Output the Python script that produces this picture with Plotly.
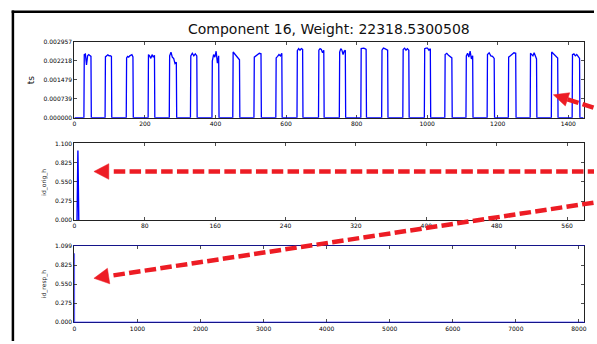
import numpy as np
import plotly.graph_objects as go

# ---------------- data ----------------
title_text = "Component 16, Weight: 22318.5300508"

ts_len = 1444
pulse_on = [27, 87, 147, 209, 269, 329, 390, 449, 509, 571, 631, 692,
            751, 812, 871, 931, 992, 1050, 1110, 1170, 1230, 1292, 1352, 1411]
pulse_off = [48, 106, 167, 228, 290, 348, 410, 469, 530, 589, 648, 708,
             769, 828, 889, 949, 1010, 1071, 1130, 1191, 1252, 1311, 1371, 1433]
pulse_levels = [
    [0.00245, 0.00247, 0.00205, 0.00240, 0.00245, 0.00243, 0.00238],
    [0.00236, 0.00241, 0.00244, 0.00240, 0.00241, 0.00238],
    [0.00232, 0.00238, 0.00235, 0.00240, 0.00242, 0.00245, 0.00236],
    [0.00245, 0.00240, 0.00230, 0.00245, 0.00235, 0.00242],
    [0.00240, 0.00254, 0.00235, 0.00230, 0.00210, 0.00215],
    [0.00240, 0.00250, 0.00240, 0.00248, 0.00240],
    [0.00220, 0.00245, 0.00235, 0.00258, 0.00212, 0.00240],
    [0.00255, 0.00248, 0.00243, 0.00235, 0.00225],
    [0.00235, 0.00240, 0.00245, 0.00250, 0.00248],
    [0.00232, 0.00238, 0.00245, 0.00240, 0.00250],
    [0.00260, 0.00268, 0.00262, 0.00268, 0.00265],
    [0.00262, 0.00268, 0.00265, 0.00252, 0.00262],
    [0.00255, 0.00268, 0.00262, 0.00245, 0.00258, 0.00262],
    [0.00268, 0.00270, 0.00270, 0.00268, 0.00265],
    [0.00262, 0.00270, 0.00268, 0.00265, 0.00262],
    [0.00265, 0.00270, 0.00262, 0.00268, 0.00262],
    [0.00268, 0.00270, 0.00270, 0.00262, 0.00268],
    [0.00245, 0.00250, 0.00242, 0.00238, 0.00232],
    [0.00240, 0.00250, 0.00235, 0.00258, 0.00228, 0.00240],
    [0.00245, 0.00252, 0.00240, 0.00238, 0.00230],
    [0.00235, 0.00240, 0.00245, 0.00252, 0.00250],
    [0.00250, 0.00245, 0.00240, 0.00252, 0.00240, 0.00228],
    [0.00255, 0.00250, 0.00245, 0.00238, 0.00232],
    [0.00245, 0.00248, 0.00240, 0.00245, 0.00238, 0.00230],
]
ts_tickvals = [0.0, 0.000739, 0.001479, 0.002218, 0.002957]
ts_ticktext = ["0.000000", "0.000739", "0.001479", "0.002218", "0.002957"]
ts_xticks = [0, 200, 400, 600, 800, 1000, 1200, 1400]

orig_len = 579
orig_idx = [3, 4, 5]
orig_val = [0, 1, 0]
orig_tickvals = [0.0, 0.275, 0.55, 0.825, 1.1]
orig_ticktext = ["0.000", "0.275", "0.550", "0.825", "1.100"]
orig_xticks = [0, 80, 160, 240, 320, 400, 480, 560]

resp_len = 8077
resp_idx = [0, 1, 8076]
resp_val = [1, 0, 0]
resp_tickvals = [0.0, 0.275, 0.55, 0.825, 1.099]
resp_ticktext = ["0.000", "0.275", "0.550", "0.825", "1.099"]
resp_xticks = [0, 1000, 2000, 3000, 4000, 5000, 6000, 7000, 8000]

# ---------------- build ts line ----------------
ts_x = [0]
ts_y = [0.0]
for on, off, lv in zip(pulse_on, pulse_off, pulse_levels):
    xs = np.linspace(on + 1, off - 1, len(lv))
    ts_x += [on] + list(xs) + [off]
    ts_y += [0.0] + lv + [0.0]
ts_x.append(ts_len - 1)
ts_y.append(0.0)

W, H = 597, 344
def px(x):
    return x / W
def py(y):
    return 1 - y / H

BLUE = "#0000ff"
RED = "#ed1c24"
FONT = "DejaVu Sans"

fig = go.Figure()
fig.add_trace(go.Scatter(x=ts_x, y=ts_y, mode="lines", line=dict(color=BLUE, width=1.3),
                         xaxis="x", yaxis="y", showlegend=False, hoverinfo="skip"))
fig.add_trace(go.Scatter(x=orig_idx, y=orig_val, mode="lines", line=dict(color=BLUE, width=1.4),
                         xaxis="x2", yaxis="y2", showlegend=False, hoverinfo="skip"))
fig.add_trace(go.Scatter(x=resp_idx, y=resp_val, mode="lines", line=dict(color=BLUE, width=1.3),
                         xaxis="x3", yaxis="y3", showlegend=False, hoverinfo="skip"))

xl, xr = px(73), px(586.7)
doms = [(py(116), py(38.3)), (py(220.7), py(142.3)), (py(325), py(247.3))]

def ax_common():
    return dict(showline=True, linecolor="#222", linewidth=1, mirror="ticks",
                ticks="inside", ticklen=3, tickwidth=0.8, tickcolor="#222",
                showgrid=False, zeroline=False, fixedrange=True,
                tickfont=dict(family=FONT, size=6, color="black"))

layout = dict(width=W, height=H, margin=dict(l=0, r=0, t=0, b=0),
              paper_bgcolor="white", plot_bgcolor="white", showlegend=False)

layout["xaxis"] = dict(domain=[xl, xr], anchor="y", range=[0, ts_len], tickvals=ts_xticks,
                       layer="below traces", **ax_common())
layout["yaxis"] = dict(domain=list(doms[0]), anchor="x", range=[0, ts_tickvals[-1]],
                       tickvals=ts_tickvals, ticktext=ts_ticktext, layer="below traces", **ax_common())
layout["xaxis2"] = dict(domain=[xl, xr], anchor="y2", range=[0, orig_len], tickvals=orig_xticks, **ax_common())
layout["yaxis2"] = dict(domain=list(doms[1]), anchor="x2", range=[0, orig_tickvals[-1]],
                        tickvals=orig_tickvals, ticktext=orig_ticktext, **ax_common())
layout["xaxis3"] = dict(domain=[xl, xr], anchor="y3", range=[0, resp_len], tickvals=resp_xticks,
                        **ax_common())
layout["xaxis3"]["linecolor"] = "#14148a"
layout["yaxis3"] = dict(domain=list(doms[2]), anchor="x3", range=[0, resp_tickvals[-1]],
                        tickvals=resp_tickvals, ticktext=resp_ticktext, **ax_common())
fig.update_layout(**layout)

# annotations: title and y labels
fig.add_annotation(x=px(330), y=py(26), xref="paper", yref="paper", text=title_text,
                   showarrow=False, font=dict(family=FONT, size=14, color="#111"),
                   xanchor="center", yanchor="middle")
fig.add_annotation(x=px(30), y=py(77), xref="paper", yref="paper", text="ts", textangle=-90,
                   showarrow=False, font=dict(family=FONT, size=9, color="#111"),
                   xanchor="center", yanchor="middle")
fig.add_annotation(x=px(42.3), y=py(181.5), xref="paper", yref="paper", text="id_orig_h", textangle=-90,
                   showarrow=False, font=dict(family=FONT, size=6, color="#222"),
                   xanchor="center", yanchor="middle")
fig.add_annotation(x=px(42.3), y=py(286), xref="paper", yref="paper", text="id_resp_h", textangle=-90,
                   showarrow=False, font=dict(family=FONT, size=6, color="#222"),
                   xanchor="center", yanchor="middle")

# outer frame (top and left edges visible), kept inside the figure
fig.add_shape(type="line", xref="paper", yref="paper", x0=px(9.75), y0=py(8), x1=1, y1=py(8),
              line=dict(color="black", width=2.5), layer="above")
fig.add_shape(type="line", xref="paper", yref="paper", x0=px(11), y0=py(6.75), x1=px(11), y1=0,
              line=dict(color="black", width=2.5), layer="above")

def tri(points):
    p = "M " + " L ".join(f"{px(a)},{py(b)}" for a, b in points) + " Z"
    return p

DASH = "11.5px,4.3px"
# arrow 1 (top)
fig.add_shape(type="line", xref="paper", yref="paper", x0=px(570.3), y0=py(97.3), x1=1, y1=py(106.0),
              line=dict(color=RED, width=4.5, dash=DASH), layer="above")
fig.add_shape(type="path", xref="paper", yref="paper",
              path=tri([(556, 92.7), (568.1, 104), (572.5, 90.6)]),
              fillcolor=RED, line=dict(color=RED, width=0.5), layer="above")
# arrow 2 (middle horizontal)
fig.add_shape(type="line", xref="paper", yref="paper", x0=px(112.7), y0=py(171), x1=1, y1=py(171),
              line=dict(color=RED, width=4.5, dash=DASH), layer="above")
fig.add_shape(type="path", xref="paper", yref="paper",
              path=tri([(92.7, 171), (107.7, 163), (107.7, 179)]),
              fillcolor=RED, line=dict(color=RED, width=0.5), layer="above")
# arrow 3 (diagonal)
fig.add_shape(type="line", xref="paper", yref="paper", x0=px(112.4), y0=py(277), x1=1, y1=py(202.7),
              line=dict(color=RED, width=4.5, dash=DASH), layer="above")
fig.add_shape(type="path", xref="paper", yref="paper",
              path=tri([(92.7, 280), (108.7, 285.6), (106.3, 269.8)]),
              fillcolor=RED, line=dict(color=RED, width=0.5), layer="above")

fig.write_html("out.html", config={"displayModeBar": False, "staticPlot": True},
               post_script="document.body.style.margin='0';document.body.style.overflow='hidden';")
